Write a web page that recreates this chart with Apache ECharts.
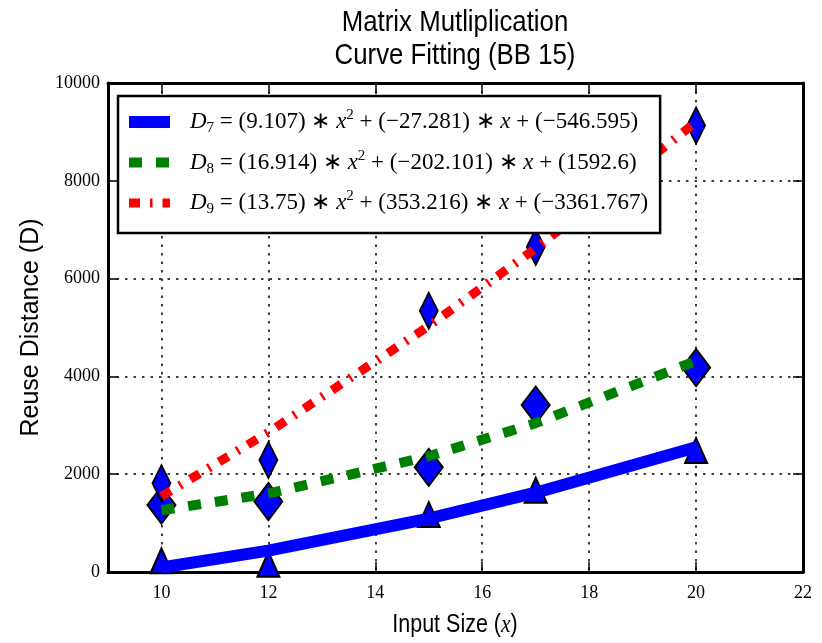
<!DOCTYPE html>
<html>
<head>
<meta charset="utf-8">
<script src="https://cdn.jsdelivr.net/npm/echarts@6/dist/echarts.min.js"></script>
<style>
  html, body { margin: 0; padding: 0; background: #ffffff; }
  #chart { width: 822px; height: 643px; }
</style>
</head>
<body>
<div id="chart"></div>
<script>
// Input sizes that were measured
const inputSizes = [10, 12, 15, 17, 20];

// Measured reuse distances (markers)
const d7Measured = [230, 160, 1175, 1675, 2485];
const d8Measured = [1370, 1440, 2140, 3415, 4180];
const d9Measured = [1815, 2290, 5345, 6645, 9130];

// Quadratic fit coefficients [a, b, c] for a*x^2 + b*x + c
const d7Coef = [9.107, -27.281, -546.595];
const d8Coef = [16.914, -202.101, 1592.6];
const d9Coef = [13.75, 353.216, -3361.767];

// Fitted reuse distances at each input size
const d7Fitted = [91.3, 437.4, 1093.3, 1621.6, 2550.6];
const d8Fitted = [1263.0, 1603.0, 2366.7, 3045.0, 4316.2];
const d9Fitted = [1545.4, 2856.8, 5030.2, 6616.7, 9202.6];

// Axis ticks
const xTicks = [10, 12, 14, 16, 18, 20, 22];

const pairs = (xs, ys) => xs.map((x, i) => [x, ys[i]]);

const coefText = v => '(' + (v < 0 ? '\u2212' + Math.abs(v) : String(v)) + ')';
const fitLabel = (k, c) =>
  '{it|D}{sub|' + k + '} = ' + coefText(c[0]) + ' \u2217 {it|x}{sup|2} + ' +
  coefText(c[1]) + ' \u2217 {it|x} + ' + coefText(c[2]);

const legendLabels = {
  D7: fitLabel(7, d7Coef),
  D8: fitLabel(8, d8Coef),
  D9: fitLabel(9, d9Coef)
};

const serif = 'Liberation Serif';
const sans = 'Liberation Sans';
const black = '#000000';
// horizontal squeeze that gives the sans headings a narrow face
const narrow = 0.86;

const tickStyle = { show: true, inside: true, length: 10, lineStyle: { color: black, width: 1.5 } };
const frameLine = { show: true, onZero: false, lineStyle: { color: black, width: 3 } };
const gridDots = { show: true, lineStyle: { color: black, width: 1.5, type: [2.5, 6] } };

const chart = echarts.init(document.getElementById('chart'), null, { renderer: 'canvas' });

chart.setOption({
  animation: false,
  backgroundColor: '#ffffff',
  graphic: [
    {
      type: 'text',
      x: 455,
      y: 6,
      scaleX: narrow,
      style: {
        text: 'Matrix Mutliplication\nCurve Fitting (BB 15)',
        fontFamily: sans,
        fontSize: 30,
        lineHeight: 33,
        fill: black,
        align: 'center',
        verticalAlign: 'top'
      }
    },
    {
      type: 'text',
      x: 455,
      y: 612,
      scaleX: narrow,
      style: {
        text: 'Input Size ({i|x})',
        fontFamily: sans,
        fontSize: 25,
        lineHeight: 26,
        fill: black,
        align: 'center',
        verticalAlign: 'top',
        rich: { i: { fontFamily: serif, fontStyle: 'italic', fontSize: 25, lineHeight: 26, fill: black } }
      }
    }
  ],
  grid: { left: 108, right: 19, top: 83, bottom: 71, containLabel: false },
  legend: {
    data: ['D7', 'D8', 'D9'],
    orient: 'vertical',
    left: 118,
    top: 96,
    padding: [12, 12, 16, 5],
    itemGap: 12.5,
    itemWidth: 41,
    itemHeight: 12,
    backgroundColor: '#ffffff',
    borderColor: black,
    borderWidth: 2.5,
    borderRadius: 0,
    lineStyle: { width: 'inherit' },
    itemStyle: { opacity: 0, borderWidth: 0 },
    formatter: name => legendLabels[name],
    textStyle: {
      fontFamily: serif,
      fontSize: 23,
      lineHeight: 28,
      color: black,
      padding: [0, 0, 0, 15],
      rich: {
        it: { fontFamily: serif, fontStyle: 'italic', fontSize: 23, lineHeight: 28, color: black },
        sub: { fontFamily: serif, fontSize: 15, lineHeight: 15, verticalAlign: 'bottom', color: black },
        sup: { fontFamily: serif, fontSize: 15, lineHeight: 15, verticalAlign: 'top', color: black }
      }
    }
  },
  xAxis: [
    {
      type: 'value',
      position: 'bottom',
      min: 9,
      max: 22,
      axisLine: frameLine,
      axisTick: Object.assign({ customValues: xTicks }, tickStyle),
      axisLabel: {
        customValues: xTicks,
        margin: 12,
        fontFamily: serif,
        fontSize: 18,
        color: black
      },
      splitLine: gridDots
    },
    {
      type: 'value',
      position: 'top',
      min: 9,
      max: 22,
      axisLine: frameLine,
      axisTick: Object.assign({ customValues: xTicks }, tickStyle),
      axisLabel: { show: false },
      splitLine: { show: false }
    }
  ],
  yAxis: [
    {
      type: 'value',
      position: 'left',
      min: 0,
      max: 10000,
      interval: 2000,
      name: 'Reuse Distance (D)',
      nameLocation: 'middle',
      nameGap: 52,
      nameTextStyle: { fontFamily: sans, fontSize: 25, color: black },
      axisLine: frameLine,
      axisTick: tickStyle,
      axisLabel: {
        margin: 8,
        fontFamily: serif,
        fontSize: 18,
        color: black,
        formatter: v => String(v)
      },
      splitLine: gridDots
    },
    {
      type: 'value',
      position: 'right',
      min: 0,
      max: 10000,
      interval: 2000,
      axisLine: frameLine,
      axisTick: tickStyle,
      axisLabel: { show: false },
      splitLine: { show: false }
    }
  ],
  series: [
    {
      name: 'D7-measured',
      type: 'scatter',
      z: 2,
      symbol: 'triangle',
      symbolSize: [22, 25],
      itemStyle: { color: '#0000ff', borderColor: black, borderWidth: 2, opacity: 1 },
      data: pairs(inputSizes, d7Measured)
    },
    {
      name: 'D8-measured',
      type: 'scatter',
      z: 2,
      symbol: 'diamond',
      symbolSize: [28, 37],
      itemStyle: { color: '#0000ff', borderColor: black, borderWidth: 2, opacity: 1 },
      data: pairs(inputSizes, d8Measured)
    },
    {
      name: 'D9-measured',
      type: 'scatter',
      z: 2,
      symbol: 'diamond',
      symbolSize: [18, 36],
      itemStyle: { color: '#0000ff', borderColor: black, borderWidth: 2, opacity: 1 },
      data: pairs(inputSizes, d9Measured)
    },
    {
      name: 'D7',
      type: 'line',
      z: 3,
      symbol: 'none',
      color: '#0000ff',
      lineStyle: { color: '#0000ff', width: 12, type: 'solid', cap: 'butt' },
      data: pairs(inputSizes, d7Fitted)
    },
    {
      name: 'D8',
      type: 'line',
      z: 3,
      symbol: 'none',
      color: '#008000',
      lineStyle: { color: '#008000', width: 10, type: [13, 14], cap: 'butt' },
      data: pairs(inputSizes, d8Fitted)
    },
    {
      name: 'D9',
      type: 'line',
      z: 3,
      symbol: 'none',
      color: '#ff0000',
      lineStyle: { color: '#ff0000', width: 9, type: [11, 10, 2.5, 10], cap: 'butt' },
      data: pairs(inputSizes, d9Fitted)
    }
  ]
});
</script>
</body>
</html>
